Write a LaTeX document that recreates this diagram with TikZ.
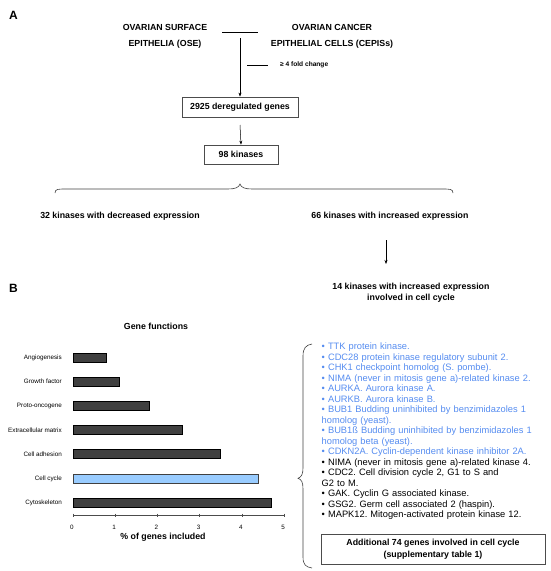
\documentclass[tikz,border=0pt]{standalone}
\usepackage{fontspec}
\setmainfont{Liberation Sans}
\usetikzlibrary{arrows.meta}
\definecolor{bluetext}{RGB}{85,140,240}
\definecolor{barblue}{RGB}{153,204,255}
\definecolor{bardark}{RGB}{64,64,64}
\frenchspacing
\begin{document}
\begin{tikzpicture}[x=1pt,y=-1pt,
  hd/.style={font=\fontsize{8.8}{10}\selectfont\bfseries, inner sep=0pt},
  lbl/.style={font=\fontsize{6.3}{7}\selectfont, inner sep=0pt},
  boxed/.style={draw=black!70, line width=0.8pt, inner sep=0pt},
  arr/.style={-{Stealth[length=4pt,width=3pt]}, line width=0.5pt},
  panel/.style={font=\fontsize{12}{14}\selectfont\bfseries, inner sep=0pt, anchor=base west},
  bar/.style={draw=black, line width=0.6pt, fill=bardark},
  gene/.style={font=\fontsize{9.3}{10.48}\selectfont, inner sep=0pt, anchor=north west, align=left, text width=230pt}
]
\useasboundingbox (0,0) rectangle (550,571);
% Panel labels
\node[panel] (pa) at (9,19) {A};
\node[panel] (pb) at (9,292) {B};
% Top
\node[hd] (ose1) at (165,27) {OVARIAN SURFACE};
\node[hd] (ose2) at (165,44) {EPITHELIA (OSE)};
\node[hd] (cep1) at (332,27) {OVARIAN CANCER};
\node[hd] (cep2) at (332,44) {EPITHELIAL CELLS (CEPISs)};
\coordinate (vsl) at (222,32);
\coordinate (vsr) at (258,32);
\draw[line width=0.5pt] (vsl) -- (vsr);
\coordinate (a1s) at (240,38);
\node[boxed, minimum width=116pt, minimum height=20pt, font=\fontsize{8.8}{10}\selectfont\bfseries] (deg) at (240,107) {2925 deregulated genes};
\draw[arr] (a1s) -- (deg.north);
\coordinate (fcl) at (247,65);
\node[lbl, font=\fontsize{6.6}{7}\selectfont\bfseries, anchor=west] (fold) at (280,65) {≥ 4 fold change};
\draw[line width=0.5pt] (fcl) -- ++(21,0);
\node[boxed, minimum width=74pt, minimum height=19pt, font=\fontsize{8.8}{10}\selectfont\bfseries] (kin) at (241,154.5) {98 kinases};
\coordinate (a2s) at (240,125);
\draw[arr] (a2s) -- (kin.north);
% brace
\coordinate (brl) at (55,193);
\coordinate (brr) at (453,193);
\draw[line width=0.6pt, black!75] (brl) .. controls (55,189) and (58,189) .. (66,189) -- (228,189) .. controls (235,189) and (239,187.5) .. (240,184) .. controls (241,187.5) and (245,189) .. (252,189) -- (442,189) .. controls (450,189) and (453,189) .. (brr);
\node[hd] (dec) at (120,216) {32 kinases with decreased expression};
\node[hd] (inc) at (390,216) {66 kinases with increased expression};
\coordinate (a3s) at (386,240);
\node[hd, align=center, font=\fontsize{8.8}{11.5}\selectfont\bfseries] (k14) at (411,292.5) {14 kinases with increased expression\\involved in cell cycle};
\coordinate (a3e) at (386,264);
\draw[arr] (a3s) -- (a3e);
% Chart
\node[hd] (gf) at (156,326) {Gene functions};
\foreach \v/\yy/\name [count=\i] in {0.8/357.7/Angiogenesis, 1.1/381.5/Growth factor, 1.8/406/Proto-oncogene, 2.6/430/Extracellular matrix, 3.5/454/Cell adhesion, 4.4/478.5/Cell cycle, 4.7/502.5/Cytoskeleton}{
  \node[lbl, anchor=east] (c\i) at (62,\yy) {\name};
}
\foreach \v/\yy [count=\i] in {0.8/357.7, 1.1/381.5, 1.8/406, 2.6/430, 3.5/454, 4.7/502.5}{
  \draw[bar] (73,\yy-4.7) rectangle (73+42.2*\v,\yy+4.7);
}
\draw[draw=black!75, line width=0.6pt, fill=barblue] (73,478.5-4.7) rectangle (73+42.2*4.4,478.5+4.7);
\coordinate (ax0) at (73,515);
\coordinate (ax5) at (284,515);
\draw[line width=0.6pt, black!70] (ax0) -- (ax5);
\foreach \t in {0,...,5}{
  \draw[line width=0.5pt, black!70] (73+42.2*\t,513.5) -- (73+42.2*\t,516.5);
  \node[lbl] (t\t) at (72+42.2*\t,527) {\t};
}
\node[hd] (xl) at (163,537) {\% of genes included};
% right brace
\coordinate (rbt) at (312,344);
\coordinate (rbb) at (312,568);
\draw[line width=0.6pt, black!75] (rbt) .. controls (306,345) and (303,348) .. (303,356) -- (303,468) .. controls (303,474) and (301.5,477) .. (298,478.3) .. controls (301.5,479.5) and (303,482) .. (303,489) -- (303,557) .. controls (303,565) and (306,567) .. (rbb);
% Gene list
\node[gene] (gl) at (321.5,343) {%
\textcolor{bluetext}{• TTK protein kinase.}\\
\textcolor{bluetext}{• CDC28 protein kinase regulatory subunit 2.}\\
\textcolor{bluetext}{• CHK1 checkpoint homolog (S. pombe).}\\
\textcolor{bluetext}{• NIMA (never in mitosis gene a)-related kinase 2.}\\
\textcolor{bluetext}{• AURKA. Aurora kinase A.}\\
\textcolor{bluetext}{• AURKB. Aurora kinase B.}\\
\textcolor{bluetext}{• BUB1 Budding uninhibited by benzimidazoles 1}\\
\textcolor{bluetext}{homolog (yeast).}\\
\textcolor{bluetext}{• BUB1ß Budding uninhibited by benzimidazoles 1}\\
\textcolor{bluetext}{homolog beta (yeast).}\\
\textcolor{bluetext}{• CDKN2A. Cyclin-dependent kinase inhibitor 2A.}\\
• NIMA (never in mitosis gene a)-related kinase 4.\\
• CDC2. Cell division cycle 2, G1 to S and\\
G2 to M.\\
• GAK. Cyclin G associated kinase.\\
• GSG2. Germ cell associated 2 (haspin).\\
• MAPK12. Mitogen-activated protein kinase 12.};
\node[boxed, minimum width=224pt, minimum height=30pt, align=center, font=\fontsize{8.8}{11.8}\selectfont\bfseries] (add) at (433,549) {Additional 74 genes involved in cell cycle\\(supplementary table 1)};
\end{tikzpicture}
\end{document}
